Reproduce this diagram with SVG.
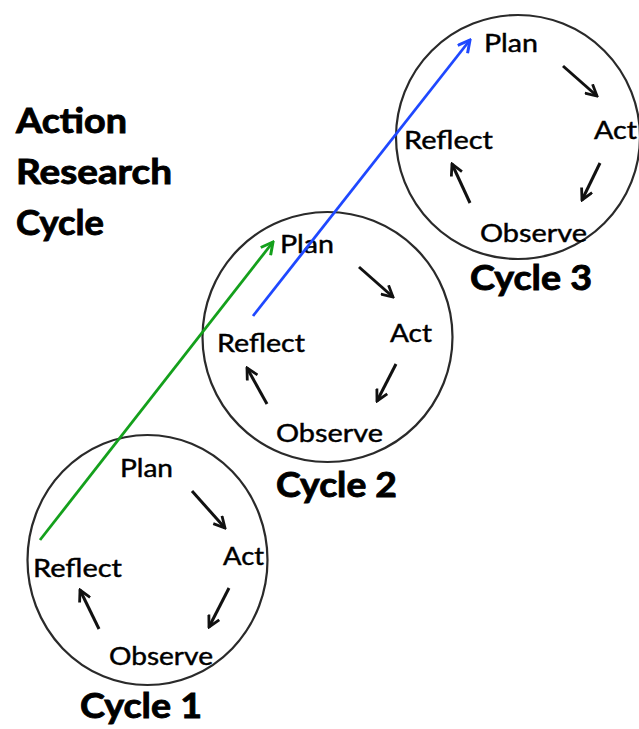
<svg xmlns="http://www.w3.org/2000/svg" width="639" height="729" viewBox="0 0 639 729">
  <style>
    .ring { fill: none; stroke: #2a2a2a; stroke-width: 2.2; }
    .step { font-family: Lato, "Liberation Sans", sans-serif; font-size: 25.5px; fill: #000; stroke: #000; stroke-width: 0.45; }
    .head { font-family: Lato, "Liberation Sans", sans-serif; font-size: 35px; font-weight: bold; fill: #000; stroke: #000; stroke-width: 0.9; }
    .flow { stroke: #111; stroke-width: 3; fill: none; marker-end: url(#tipBlack); }
    .link1 { stroke: #14a01c; stroke-width: 2.8; fill: none; marker-end: url(#tipGreen); }
    .link2 { stroke: #1f48ff; stroke-width: 2.8; fill: none; marker-end: url(#tipBlue); }
  </style>
  <defs>
    <marker id="tipBlack" viewBox="0 0 12 12" refX="10.5" refY="6" markerWidth="14" markerHeight="14" markerUnits="userSpaceOnUse" orient="auto">
      <path d="M1,1 L10.5,6 L1,11" fill="none" stroke="#111" stroke-width="2.4"/>
    </marker>
    <marker id="tipGreen" viewBox="0 0 12 12" refX="10.5" refY="6" markerWidth="15" markerHeight="15" markerUnits="userSpaceOnUse" orient="auto">
      <path d="M1,1 L10.5,6 L1,11" fill="none" stroke="#14a01c" stroke-width="2.4"/>
    </marker>
    <marker id="tipBlue" viewBox="0 0 12 12" refX="10.5" refY="6" markerWidth="15" markerHeight="15" markerUnits="userSpaceOnUse" orient="auto">
      <path d="M1,1 L10.5,6 L1,11" fill="none" stroke="#1f48ff" stroke-width="2.4"/>
    </marker>
  </defs>

  <rect width="639" height="729" fill="#fff"/>

  <!-- heading -->
  <g id="title">
    <text class="head" x="16" y="133" textLength="111" lengthAdjust="spacingAndGlyphs">Action</text>
    <text class="head" x="16" y="184" textLength="156" lengthAdjust="spacingAndGlyphs">Research</text>
    <text class="head" x="16" y="235" textLength="88" lengthAdjust="spacingAndGlyphs">Cycle</text>
  </g>

  <!-- first loop -->
  <g id="cycle1">
    <ellipse class="ring" cx="147.5" cy="560" rx="120" ry="125"/>
    <text class="step" x="120" y="477" textLength="53" lengthAdjust="spacingAndGlyphs">Plan</text>
    <text class="step" x="223" y="565" textLength="41" lengthAdjust="spacingAndGlyphs">Act</text>
    <text class="step" x="109" y="665" textLength="104" lengthAdjust="spacingAndGlyphs">Observe</text>
    <text class="step" x="33" y="577" textLength="89" lengthAdjust="spacingAndGlyphs">Reflect</text>
    <line class="flow" x1="192" y1="491" x2="225" y2="528"/>
    <line class="flow" x1="229" y1="588" x2="209" y2="627"/>
    <line class="flow" x1="99" y1="629" x2="80" y2="590"/>
    <text class="head" x="80" y="718" textLength="122" lengthAdjust="spacingAndGlyphs">Cycle 1</text>
  </g>

  <!-- second loop -->
  <g id="cycle2">
    <circle class="ring" cx="327.5" cy="337" r="125"/>
    <text class="step" x="280" y="253" textLength="54" lengthAdjust="spacingAndGlyphs">Plan</text>
    <text class="step" x="390" y="342" textLength="42" lengthAdjust="spacingAndGlyphs">Act</text>
    <text class="step" x="276" y="442" textLength="107" lengthAdjust="spacingAndGlyphs">Observe</text>
    <text class="step" x="217" y="352" textLength="88" lengthAdjust="spacingAndGlyphs">Reflect</text>
    <line class="flow" x1="359" y1="267" x2="393" y2="297"/>
    <line class="flow" x1="396" y1="364" x2="377" y2="401"/>
    <line class="flow" x1="267" y1="404" x2="247" y2="368"/>
    <text class="head" x="276" y="497" textLength="121" lengthAdjust="spacingAndGlyphs">Cycle 2</text>
  </g>

  <!-- third loop -->
  <g id="cycle3">
    <circle class="ring" cx="518" cy="137" r="122"/>
    <text class="step" x="484" y="52" textLength="54" lengthAdjust="spacingAndGlyphs">Plan</text>
    <text class="step" x="594" y="139" textLength="43" lengthAdjust="spacingAndGlyphs">Act</text>
    <text class="step" x="480" y="242" textLength="107" lengthAdjust="spacingAndGlyphs">Observe</text>
    <text class="step" x="404" y="149" textLength="89" lengthAdjust="spacingAndGlyphs">Reflect</text>
    <line class="flow" x1="563" y1="66" x2="597" y2="96"/>
    <line class="flow" x1="600" y1="163" x2="582" y2="200"/>
    <line class="flow" x1="470" y1="203" x2="452" y2="164"/>
    <text class="head" x="470" y="290" textLength="122" lengthAdjust="spacingAndGlyphs">Cycle 3</text>
  </g>

  <!-- links from each Reflect to the next Plan -->
  <g id="connectors">
    <line class="link1" x1="40" y1="540" x2="273" y2="242"/>
    <line class="link2" x1="253" y1="316" x2="470" y2="40"/>
  </g>
</svg>
